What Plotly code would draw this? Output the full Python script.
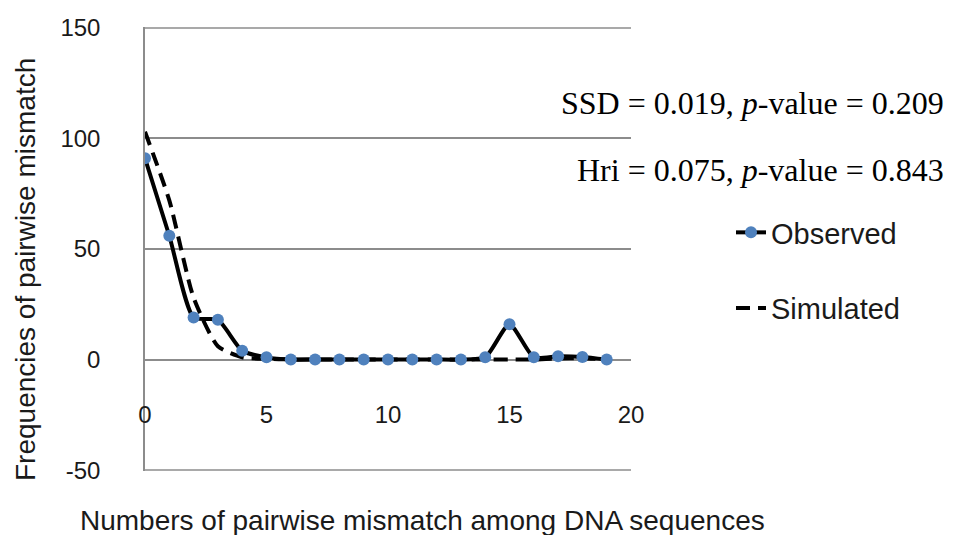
import plotly.graph_objects as go

mismatch = list(range(20))
observed = [91, 56, 19, 18, 4, 1, 0, 0, 0, 0, 0, 0, 0, 0, 1, 16, 1, 1.5, 1.2, 0]
simulated = [103, 72, 28, 6, 1, 0.3, 0.1, 0, 0, 0, 0, 0, 0, 0, 0, 0, 0, 0.5, 0.6, 0]
x_ticks = [0, 5, 10, 15, 20]
y_ticks = [-50, 0, 50, 100, 150]
y_tick_text = ["-50", "0", "50", "100", "150"]

W, H = 953, 535
l, r, t, b = 145, 322, 27, 64
pw, ph = W - l - r, H - t - b
def px(xp): return (xp - l) / pw
def py(yp): return (H - b - yp) / ph

fig = go.Figure()
fig.add_trace(go.Scatter(
    x=mismatch, y=simulated, name="Simulated", mode="lines",
    line=dict(color="black", width=4, dash="14px,8px", shape="spline", smoothing=0.6),
    legendgroup="b", legendrank=2))
fig.add_trace(go.Scatter(
    x=mismatch, y=observed, name="Observed", mode="lines+markers",
    line=dict(color="black", width=4, shape="spline", smoothing=0.6),
    marker=dict(color="#4F81BD", size=12),
    legendgroup="a", legendrank=1))

grid_color = "#8c8c8c"
# gridlines at the range edges (plotly skips them)
for yv in (y_ticks[0], y_ticks[-1]):
    fig.add_shape(type="line", xref="paper", yref="y", x0=0, x1=1, y0=yv, y1=yv,
                  line=dict(color=grid_color, width=1.5), layer="below")

serif = dict(family="Liberation Serif, Times New Roman", size=32, color="black")
fig.update_layout(
    width=W, height=H,
    margin=dict(l=l, r=r, t=t, b=b),
    paper_bgcolor="white", plot_bgcolor="white",
    font=dict(family="Liberation Sans, Arial", size=24, color="#1a1a1a"),
    showlegend=True,
    legend=dict(x=px(731), y=py(207), xanchor="left", yanchor="top",
                tracegroupgap=35, font=dict(size=29),
                bgcolor="rgba(0,0,0,0)"),
    xaxis=dict(range=[0, 20], tickvals=x_ticks, showgrid=False, zeroline=False,
               anchor="free", position=0.25, showline=False, ticks="",
               ticklabelstandoff=38),
    yaxis=dict(range=[-50.4, 150.4], tickvals=y_ticks, ticktext=y_tick_text,
               showgrid=True, gridcolor=grid_color, gridwidth=1.5, zeroline=False,
               showline=True, linecolor=grid_color, linewidth=1.5, ticks="",
               ticklabelstandoff=38),
    annotations=[
        dict(x=px(422), y=py(520), xref="paper", yref="paper",
             xanchor="center", yanchor="middle",
             text="Numbers of pairwise mismatch among DNA sequences",
             showarrow=False, font=dict(size=28)),
        dict(x=px(25), y=py(270), xref="paper", yref="paper",
             xanchor="center", yanchor="middle", textangle=-90,
             text="Frequencies of pairwise mismatch", showarrow=False,
             font=dict(size=28)),
        dict(x=px(946), y=py(103), xref="paper", yref="paper",
             xanchor="right", yanchor="middle", showarrow=False,
             text="SSD = 0.019, <i>p</i>-value = 0.209", font=serif),
        dict(x=px(946), y=py(170), xref="paper", yref="paper",
             xanchor="right", yanchor="middle", showarrow=False,
             text="Hri = 0.075, <i>p</i>-value = 0.843", font=serif),
    ],
)

fig.write_html("out.html")
